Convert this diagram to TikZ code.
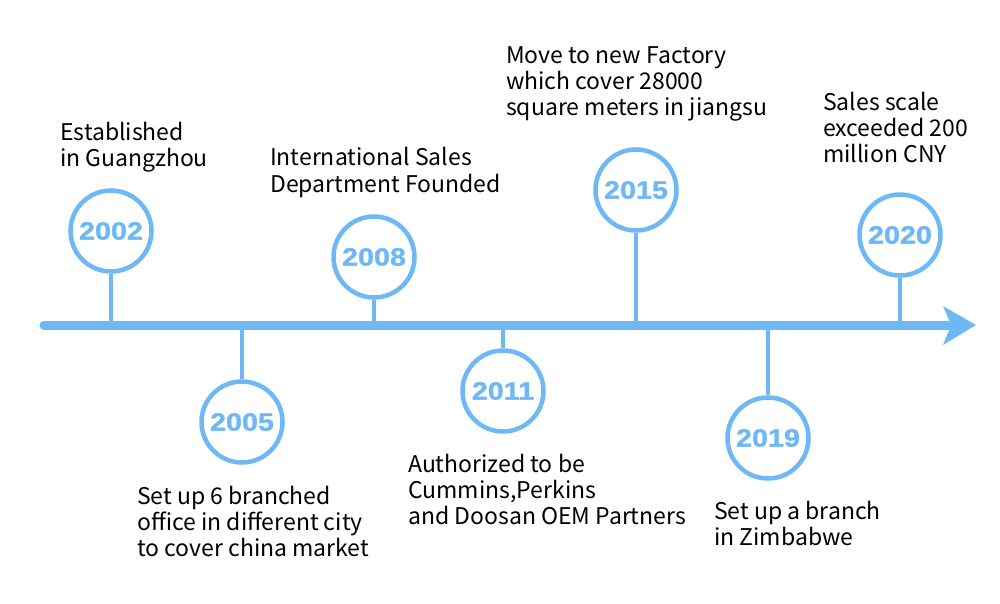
\documentclass[tikz,border=0pt]{standalone}
\usepackage{fontspec}
\newfontfamily\labelfont{Noto Sans CJK SC}
\newfontfamily\yearfont[FakeStretch=1.15, FakeBold=1.2]{Liberation Sans Bold}
\definecolor{lineblue}{RGB}{110,184,246}
\tikzset{
  year/.style={circle, draw=lineblue, line width=4.5pt, minimum size=81pt, inner sep=0pt,
    fill=white, text=lineblue, font=\yearfont\fontsize{25}{25}\selectfont},
  stem/.style={draw=lineblue, line width=4.5pt},
  event/.style={anchor=base west, align=left, inner sep=0pt,
    font=\labelfont\fontsize{23}{26}\selectfont}
}

\begin{document}
\begin{tikzpicture}[x=1pt,y=-1pt]
\useasboundingbox (0,0) rectangle (1000,604);
\coordinate (start) at (44,325);
\coordinate (notch) at (951,325);
\coordinate (tip) at (976,325);
\draw[lineblue, line width=9pt, line cap=round] (start) -- (notch);
\fill[lineblue] (943,306) -- (tip) -- (943,345) -- (notch) -- cycle;

\node[year] (y2002) at (111,231) {2002};
\node[year] (y2005) at (242,422) {2005};
\node[year] (y2008) at (374,257) {2008};
\node[year] (y2011) at (503,391) {2011};
\node[year] (y2015) at (636,190) {2015};
\node[year] (y2019) at (768,438) {2019};
\node[year] (y2020) at (900,235) {2020};

\draw[stem] (y2002.south) -- (y2002.south |- start);
\draw[stem] (y2005.north) -- (y2005.north |- start);
\draw[stem] (y2008.south) -- (y2008.south |- start);
\draw[stem] (y2011.north) -- (y2011.north |- start);
\draw[stem] (y2015.south) -- (y2015.south |- start);
\draw[stem] (y2019.north) -- (y2019.north |- start);
\draw[stem] (y2020.south) -- (y2020.south |- start);

% base = last line
\node[event] (l2002) at (60,167) {Established\\in Guangzhou};
\node[event] (l2005) at (137,556) {Set up 6 branched\\office in different city\\to cover china market};
\node[event] (l2008) at (270,192) {International Sales\\Department Founded};
\node[event] (l2011) at (408,524) {Authorized to be\\Cummins,Perkins\\and Doosan OEM Partners};
\node[event] (l2015) at (506,116) {Move to new Factory\\which cover 28000\\square meters in jiangsu};
\node[event] (l2019) at (714,545) {Set up a branch\\in Zimbabwe};
\node[event] (l2020) at (823,163) {Sales scale\\exceeded 200\\million CNY};
\end{tikzpicture}
\end{document}
